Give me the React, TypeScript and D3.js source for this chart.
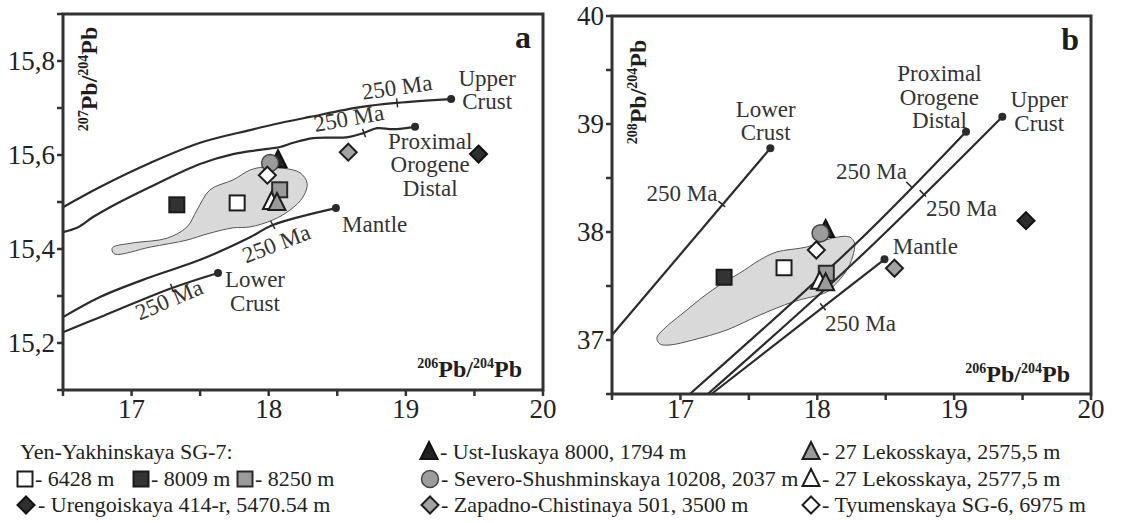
import React from 'react';
import * as d3 from 'd3';

type P = [number, number];

// ---- panel a : 207Pb/204Pb vs 206Pb/204Pb ----
const upperCrustA: P[] = [[16.5, 15.489], [16.77, 15.532], [17.135, 15.583], [17.5, 15.626], [17.864, 15.653], [18.083, 15.668], [18.3, 15.681], [18.666, 15.702], [18.936, 15.711], [19.33, 15.719]];
const orogeneA: P[] = [[16.5, 15.436], [16.602, 15.445], [16.719, 15.468], [16.843, 15.489], [17.135, 15.532], [17.499, 15.581], [17.74, 15.602], [17.937, 15.611], [18.083, 15.617], [18.178, 15.626], [18.324, 15.636], [18.579, 15.638], [18.695, 15.647], [18.79, 15.657], [18.907, 15.655], [19.067, 15.66]];
const mantleA: P[] = [[16.5, 15.255], [16.77, 15.298], [17.135, 15.34], [17.5, 15.377], [17.864, 15.425], [18.03, 15.451], [18.49, 15.487]];
const lowerCrustA: P[] = [[16.5, 15.223], [16.77, 15.255], [17.295, 15.317], [17.63, 15.349]];
const ticks250A: P[] = [[18.936, 15.711], [18.695, 15.647], [18.03, 15.451], [17.295, 15.317]];
const fieldA: P[] = [[16.857, 15.398], [16.865, 15.404], [17.011, 15.413], [17.259, 15.423], [17.404, 15.447], [17.477, 15.483], [17.572, 15.526], [17.74, 15.547], [17.864, 15.568], [17.959, 15.574], [18.105, 15.572], [18.229, 15.562], [18.28, 15.54], [18.251, 15.511], [18.156, 15.483], [18.032, 15.462], [17.864, 15.447], [17.74, 15.445], [17.55, 15.432], [17.404, 15.419], [17.135, 15.404], [16.879, 15.389]];

// ---- panel b : 208Pb/204Pb vs 206Pb/204Pb ----
const lowerCrustB: P[] = [[16.5, 37.046], [17.657, 38.775]];
const orogeneB: P[] = [[17.069, 36.5], [18.287, 37.898], [19.087, 38.929]];
const upperCrustB: P[] = [[17.2, 36.5], [18.272, 37.722], [19.352, 39.068]];
const mantleB: P[] = [[17.227, 36.5], [18.491, 37.747]];
const ticks250B: P[] = [[17.302, 38.259], [18.674, 38.435], [18.771, 38.358], [18.041, 37.308]];
const fieldB: P[] = [[16.828, 37.019], [16.872, 37.093], [17.047, 37.278], [17.164, 37.398], [17.31, 37.528], [17.434, 37.62], [17.58, 37.741], [17.703, 37.815], [17.922, 37.861], [18.112, 37.944], [18.236, 37.954], [18.272, 37.898], [18.258, 37.769], [18.207, 37.63], [18.127, 37.509], [18.069, 37.444], [17.82, 37.352], [17.58, 37.231], [17.339, 37.093], [17.091, 37.0], [16.923, 36.954], [16.85, 36.963]];

// ---- samples (draw order) ----
const sampleKinds = ['sqDark', 'sqWhite', 'triDark', 'circGray', 'dmWhite', 'sqGray', 'triWhite', 'triGray', 'dmGray', 'dmDark'];
const sampleXA = [17.33, 17.77, 18.068, 18.01, 17.99, 18.08, 18.02, 18.06, 18.58, 19.53];
const sampleYA = [15.494, 15.498, 15.589, 15.583, 15.557, 15.526, 15.5, 15.498, 15.606, 15.602];
const sampleXB = [17.319, 17.757, 18.061, 18.024, 17.993, 18.066, 18.017, 18.061, 18.564, 19.525];
const sampleYB = [37.581, 37.669, 38.019, 37.988, 37.833, 37.618, 37.54, 37.525, 37.664, 38.105];

// ---- axes ----
const xTicks = [16.5, 17, 17.5, 18, 18.5, 19, 19.5, 20];
const xLabelVals = [17, 18, 19, 20];
const yTicksA = [15.1, 15.2, 15.3, 15.4, 15.5, 15.6, 15.7, 15.8, 15.9];
const yLabelValsA = [15.2, 15.4, 15.6, 15.8];
const yLabelsA = ['15,2', '15,4', '15,6', '15,8'];
const yTicksB = [36.5, 37, 37.5, 38, 38.5, 39, 39.5, 40];
const yLabelValsB = [37, 38, 39, 40];
const yLabelsB = ['37', '38', '39', '40'];

// ---- annotations (data coords) ----
type Label = { lines: string[]; x: number; y: number; rot?: number; anchor?: string };
const labelsA: Label[] = [
  { lines: ['Upper', 'Crust'], x: 19.593, y: 15.747 },
  { lines: ['Proximal', 'Orogene', 'Distal'], x: 19.177, y: 15.613 },
  { lines: ['Mantle'], x: 18.535, y: 15.436, anchor: 'start' },
  { lines: ['Lower', 'Crust'], x: 17.9, y: 15.319 },
  { lines: ['250 Ma'], x: 18.943, y: 15.728, rot: -8 },
  { lines: ['250 Ma'], x: 18.593, y: 15.662, rot: -10 },
  { lines: ['250 Ma'], x: 18.075, y: 15.396, rot: -21 },
  { lines: ['250 Ma'], x: 17.295, y: 15.277, rot: -23 },
];
const labelsB: Label[] = [
  { lines: ['Lower', 'Crust'], x: 17.623, y: 39.065 },
  { lines: ['250 Ma'], x: 17.011, y: 38.287 },
  { lines: ['Proximal', 'Orogene', 'Distal'], x: 18.892, y: 39.398 },
  { lines: ['Upper', 'Crust'], x: 19.622, y: 39.157 },
  { lines: ['250 Ma'], x: 18.396, y: 38.491 },
  { lines: ['250 Ma'], x: 19.053, y: 38.148 },
  { lines: ['Mantle'], x: 18.79, y: 37.796 },
  { lines: ['250 Ma'], x: 18.316, y: 37.083 },
];

const FONT = 'Liberation Serif, Times New Roman, Times, serif';
const INK = '#2b2b2b';

const markerStyle: Record<string, { fill: string; stroke: string }> = {
  sqWhite: { fill: '#fff', stroke: '#1e1e1e' },
  sqDark: { fill: '#333', stroke: '#1a1a1a' },
  sqGray: { fill: '#9a9a9a', stroke: '#2a2a2a' },
  triDark: { fill: '#222', stroke: '#111' },
  triGray: { fill: '#9a9a9a', stroke: '#1e1e1e' },
  triWhite: { fill: '#fff', stroke: '#1e1e1e' },
  circGray: { fill: '#9c9c9c', stroke: '#444' },
  dmWhite: { fill: '#fff', stroke: '#1e1e1e' },
  dmGray: { fill: '#a3a3a3', stroke: '#1e1e1e' },
  dmDark: { fill: '#2e2e2e', stroke: '#111' },
};

function Marker({ kind, x, y }: { kind: string; x: number; y: number }) {
  const s = markerStyle[kind];
  const common = { fill: s.fill, stroke: s.stroke, strokeWidth: 2, strokeLinejoin: 'miter' as const };
  if (kind.startsWith('sq')) return <rect x={x - 7.5} y={y - 7.5} width={15} height={15} {...common} />;
  if (kind.startsWith('tri'))
    return <polygon points={`${x},${y - 10} ${x + 8.5},${y + 7} ${x - 8.5},${y + 7}`} {...common} />;
  if (kind.startsWith('circ')) return <circle cx={x} cy={y} r={8.5} {...common} strokeWidth={1.5} />;
  return <polygon points={`${x},${y - 8.5} ${x + 8.5},${y} ${x},${y + 8.5} ${x - 8.5},${y}`} {...common} />;
}

function Title({ x, y, a, b, rotate, anchor }: { x: number; y: number; a: string; b: string; rotate?: boolean; anchor: string }) {
  return (
    <text transform={`translate(${x},${y})${rotate ? ' rotate(-90)' : ''}`} textAnchor={anchor}
      fontFamily={FONT} fontWeight="bold" fill="#1e1e1e">
      <tspan fontSize={14} dy={-9}>{a}</tspan>
      <tspan fontSize={24} dy={9}>Pb/</tspan>
      <tspan fontSize={14} dy={-9}>{b}</tspan>
      <tspan fontSize={24} dy={9}>Pb</tspan>
    </text>
  );
}

type PanelProps = {
  xr: [number, number]; yr: [number, number]; yDomain: [number, number];
  yTicks: number[]; yLabelVals: number[]; yLabels: string[];
  curves: P[][]; ticks250: P[]; field: P[];
  sx: number[]; sy: number[]; labels: Label[];
  letter: string; letterPos: P; sup: string; titleY: [number, number];
};

function Panel(p: PanelProps) {
  const x = d3.scaleLinear().domain([16.5, 20]).range(p.xr);
  const y = d3.scaleLinear().domain(p.yDomain).range(p.yr);
  const [left, right] = p.xr;
  const [bottom, top] = p.yr;
  const line = d3.line<P>().x(d => x(d[0])).y(d => y(d[1])).curve(d3.curveCatmullRom.alpha(0.5));
  const area = d3.line<P>().x(d => x(d[0])).y(d => y(d[1])).curve(d3.curveCatmullRomClosed.alpha(0.5));

  // perpendicular tick on the nearest curve segment
  const tickMarks = p.ticks250.map((t, i) => {
    const tx = x(t[0]), ty = y(t[1]);
    let best = { d: Infinity, a: 0 };
    p.curves.forEach(c => {
      for (let k = 0; k < c.length - 1; k++) {
        const x0 = x(c[k][0]), y0 = y(c[k][1]), x1 = x(c[k + 1][0]), y1 = y(c[k + 1][1]);
        const mx = (x0 + x1) / 2, my = (y0 + y1) / 2;
        const dd = Math.hypot(mx - tx, my - ty) + (tx < Math.min(x0, x1) - 1 || tx > Math.max(x0, x1) + 1 ? 1000 : 0);
        if (dd < best.d) best = { d: dd, a: Math.atan2(y1 - y0, x1 - x0) };
      }
    });
    const nx = -Math.sin(best.a) * 4.5, ny = Math.cos(best.a) * 4.5;
    return <line key={i} x1={tx - nx} y1={ty - ny} x2={tx + nx} y2={ty + ny} stroke={INK} strokeWidth={1.5} />;
  });

  return (
    <g>
      <path d={area(p.field) ?? ''} fill="#d9d9d9" stroke="#555" strokeWidth={1} />
      {p.curves.map((c, i) => (
        <g key={i}>
          <path d={line(c) ?? ''} fill="none" stroke={INK} strokeWidth={2.2} />
          <circle cx={x(c[c.length - 1][0])} cy={y(c[c.length - 1][1])} r={4} fill={INK} />
        </g>
      ))}
      {tickMarks}
      {p.sx.map((v, i) => <Marker key={i} kind={sampleKinds[i]} x={x(v)} y={y(p.sy[i])} />)}
      {p.labels.map((l, i) => (
        <text key={i} transform={`translate(${x(l.x)},${y(l.y)}) rotate(${l.rot ?? 0})`}
          textAnchor={l.anchor ?? 'middle'} fontFamily={FONT} fontSize={23} fill="#333">
          {l.lines.map((s, k) => <tspan key={k} x={0} dy={k === 0 ? 0 : 23.5}>{s}</tspan>)}
        </text>
      ))}
      <text x={x(p.letterPos[0])} y={y(p.letterPos[1])} textAnchor="middle" fontFamily={FONT}
        fontWeight="bold" fontSize={32} fill="#1e1e1e">{p.letter}</text>

      {/* frame */}
      <rect x={left} y={top} width={right - left} height={bottom - top} fill="none" stroke="#333" strokeWidth={3} />
      {p.yTicks.map((v, i) => <line key={i} x1={left - 6} x2={left} y1={y(v)} y2={y(v)} stroke="#333" strokeWidth={2.5} />)}
      {xTicks.map((v, i) => <line key={i} x1={x(v)} x2={x(v)} y1={bottom} y2={bottom + 6} stroke="#333" strokeWidth={2.5} />)}
      {p.yLabelVals.map((v, i) => (
        <text key={i} x={left - 8} y={y(v)} dy="0.35em" textAnchor="end" fontFamily={FONT} fontSize={27} fill="#222">{p.yLabels[i]}</text>
      ))}
      {xLabelVals.map((v, i) => (
        <text key={i} x={x(v)} y={418} textAnchor="middle" fontFamily={FONT} fontSize={27} fill="#222">{String(v)}</text>
      ))}
      <Title x={left + 34} y={p.titleY[0]} a={p.sup} b="204" rotate anchor="middle" />
      <Title x={right - 21} y={p.titleY[1]} a="206" b="204" anchor="end" />
    </g>
  );
}

// legend layout
const legendRows = [459, 486, 512];
const legendItems: { kind: string; mx: number; tx: number; row: number; text: string }[] = [
  { kind: 'sqWhite', mx: 25, tx: 35, row: 1, text: '- 6428 m' },
  { kind: 'sqDark', mx: 141, tx: 151, row: 1, text: '- 8009 m' },
  { kind: 'sqGray', mx: 245, tx: 255, row: 1, text: '- 8250 m' },
  { kind: 'dmDark', mx: 26, tx: 38, row: 2, text: '- Urengoiskaya 414-r, 5470.54 m' },
  { kind: 'triDark', mx: 429, tx: 440, row: 0, text: '- Ust-Iuskaya 8000, 1794 m' },
  { kind: 'circGray', mx: 430, tx: 441, row: 1, text: '- Severo-Shushminskaya 10208, 2037 m' },
  { kind: 'dmGray', mx: 430, tx: 441, row: 2, text: '- Zapadno-Chistinaya 501, 3500 m' },
  { kind: 'triGray', mx: 811, tx: 822, row: 0, text: '- 27 Lekosskaya, 2575,5 m' },
  { kind: 'triWhite', mx: 811, tx: 822, row: 1, text: '- 27 Lekosskaya, 2577,5 m' },
  { kind: 'dmWhite', mx: 811, tx: 822, row: 2, text: '- Tyumenskaya SG-6, 6975 m' },
];

export default function App() {
  return (
    <div style={{ position: 'fixed', left: 0, top: 0 }}>
      <svg width={1122} height={523} style={{ display: 'block', background: '#fff' }}>
        <Panel xr={[63, 543]} yr={[390, 14]} yDomain={[15.1, 15.9]} yTicks={yTicksA}
          yLabelVals={yLabelValsA} yLabels={yLabelsA}
          curves={[upperCrustA, orogeneA, mantleA, lowerCrustA]} ticks250={ticks250A} field={fieldA}
          sx={sampleXA} sy={sampleYA} labels={labelsA} letter="a" letterPos={[19.855, 15.828]}
          sup="207" titleY={[79, 377]} />
        <Panel xr={[612, 1091]} yr={[394, 16]} yDomain={[36.5, 40]} yTicks={yTicksB}
          yLabelVals={yLabelValsB} yLabels={yLabelsB}
          curves={[lowerCrustB, orogeneB, upperCrustB, mantleB]} ticks250={ticks250B} field={fieldB}
          sx={sampleXB} sy={sampleYB} labels={labelsB} letter="b" letterPos={[19.848, 39.685]}
          sup="208" titleY={[92, 382]} />
        <text x={20} y={legendRows[0]} fontFamily={FONT} fontSize={22} fill="#222">Yen-Yakhinskaya SG-7:</text>
        {legendItems.map((it, i) => (
          <g key={i}>
            <Marker kind={it.kind} x={it.mx} y={legendRows[it.row] - 7} />
            <text x={it.tx} y={legendRows[it.row]} fontFamily={FONT} fontSize={22} fill="#222">{it.text}</text>
          </g>
        ))}
      </svg>
    </div>
  );
}
